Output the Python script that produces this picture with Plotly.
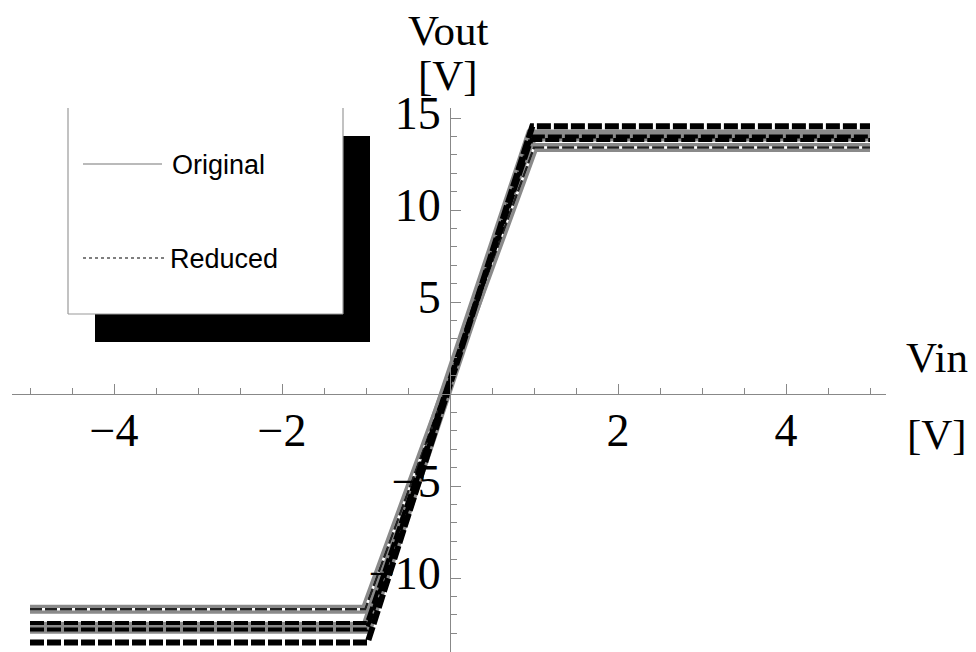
import plotly.graph_objects as go

# page has an 8px body margin, so figure is drawn from (8,8) of the window
OFF = 8
W, H = 976 - OFF, 652 - OFF

# ---- data ----
vin_g1 = [-5.0, -1.01, 1.0, 5.0]
vout_g1 = [-11.7, -11.7, 13.4, 13.4]          # original (gray, with white-dashed core)
vin_g2 = [-5.0, -0.99, 0.97, 5.0]
vout_g2 = [-12.7, -12.7, 14.05, 14.05]        # original (gray wide band)
vin_b2 = [-5.0, -0.99, 0.97, 5.0]
vout_b2 = [-12.45, -12.45, 14.0, 14.0]        # reduced
vin_b3 = [-5.0, -0.99, 0.97, 5.0]
vout_b3 = [-12.8, -12.8, 13.8, 13.8]          # reduced
vin_b4 = [-5.0, -0.98, 0.98, 5.0]
vout_b4 = [-13.5, -13.5, 14.55, 14.55]        # reduced (outermost)

x_tickvals = [-4, -2, 2, 4]
x_ticktext = ["\u22124", "\u22122", "2", "4"]
y_tickvals = [-10, -5, 5, 10, 15]
y_ticktext = ["\u221210", "\u22125", "5", "10", "15"]

# ---- pixel geometry helpers (window pixel coords) ----
x0px, x1px = 12, 886
y_top_px, y_bot_px = 108, 652
px_per_x = 84.0
px_per_y = 18.4
orig_x, orig_y = 450, 394
xr = [(x0px - orig_x) / px_per_x, (x1px - orig_x) / px_per_x]
yr = [(orig_y - y_bot_px) / px_per_y, (orig_y - y_top_px) / px_per_y]


def px(x):
    return (x - OFF) / W


def py(y):
    return 1 - (y - OFF) / H


xdom = [px(x0px), px(x1px)]
ydom = [max(0.0, py(y_bot_px)), py(y_top_px)]
xpos = xdom[0] + (0 - xr[0]) / (xr[1] - xr[0]) * (xdom[1] - xdom[0])
ypos = ydom[0] + (0 - yr[0]) / (yr[1] - yr[0]) * (ydom[1] - ydom[0])

fig = go.Figure()


def add(x, y, color, width, dash="solid"):
    fig.add_trace(go.Scatter(x=x, y=y, mode="lines", showlegend=False,
                             line=dict(color=color, width=width, dash=dash),
                             hoverinfo="skip"))


GRAY = "#8a8a8a"
add(vin_g2, vout_g2, GRAY, 12)
add(vin_g1, vout_g1, GRAY, 9)
add(vin_g1, vout_g1, "white", 2.5)
add(vin_g1, vout_g1, "#222222", 2.5, "12px,3px")
add(vin_b2, vout_b2, "black", 4, "14px,3px")
add(vin_b3, vout_b3, "black", 4, "14px,3px")
add(vin_b4, vout_b4, "black", 6, "14px,3px")

AX = "#888888"
fig.update_xaxes(range=xr, domain=xdom, anchor="free", position=ypos,
                 automargin=False,
                 showgrid=False, zeroline=False, showline=True,
                 linecolor=AX, linewidth=1.2,
                 ticks="inside", ticklen=10, tickcolor=AX, tickwidth=1,
                 tickvals=x_tickvals, ticktext=x_ticktext,
                 ticklabelstandoff=-4,
                 tickfont=dict(family="Liberation Serif", size=46, color="black"),
                 minor=dict(ticks="inside", ticklen=6, dtick=0.5, tick0=0,
                            tickcolor=AX, showgrid=False))
fig.update_yaxes(range=yr, domain=ydom, anchor="free", position=xpos,
                 automargin=False,
                 showgrid=False, zeroline=False, showline=True,
                 linecolor=AX, linewidth=1.2,
                 ticks="inside", ticklen=10, tickcolor=AX, tickwidth=1,
                 tickvals=y_tickvals, ticktext=y_ticktext,
                 ticklabelshift=-5,
                 tickfont=dict(family="Liberation Serif", size=46, color="black"),
                 minor=dict(ticks="inside", ticklen=6, dtick=1, tick0=0,
                            tickcolor=AX, showgrid=False))

shapes = []
# legend shadow
shapes.append(dict(type="rect", xref="paper", yref="paper",
                   x0=px(95), x1=px(370), y0=py(342), y1=py(136),
                   fillcolor="black", line=dict(width=0), layer="above"))
# legend box
shapes.append(dict(type="rect", xref="paper", yref="paper",
                   x0=px(68), x1=px(343), y0=py(314), y1=py(108),
                   fillcolor="white", line=dict(width=0), layer="above"))
for (a, b, c, d) in [(68, 108, 68, 314), (68, 314, 343, 314), (343, 108, 343, 314)]:
    shapes.append(dict(type="line", xref="paper", yref="paper",
                       x0=px(a), y0=py(b), x1=px(c), y1=py(d),
                       line=dict(color="#999999", width=1.2), layer="above"))
shapes.append(dict(type="line", xref="paper", yref="paper",
                   x0=px(83), y0=py(164), x1=px(162), y1=py(164),
                   line=dict(color="#777777", width=1.2), layer="above"))
shapes.append(dict(type="line", xref="paper", yref="paper",
                   x0=px(83), y0=py(258), x1=px(165), y1=py(258),
                   line=dict(color="#555555", width=1.3, dash="dot"), layer="above"))

ann = []
ann.append(dict(x=px(170), y=py(165), xref="paper", yref="paper", text="Original",
                showarrow=False, xanchor="left", yanchor="middle",
                font=dict(family="Liberation Sans", size=27, color="black")))
ann.append(dict(x=px(168), y=py(259), xref="paper", yref="paper", text="Reduced",
                showarrow=False, xanchor="left", yanchor="middle",
                font=dict(family="Liberation Sans", size=27, color="black")))
serif = dict(family="Liberation Serif", size=43, color="black")
ann.append(dict(x=px(448), y=py(31), xref="paper", yref="paper", text="Vout",
                showarrow=False, xanchor="center", yanchor="middle", font=serif,
                borderpad=0))
ann.append(dict(x=px(448), y=py(76), xref="paper", yref="paper", text="[V]",
                showarrow=False, xanchor="center", yanchor="middle", font=serif,
                borderpad=0))
ann.append(dict(x=px(937), y=py(357), xref="paper", yref="paper", text="Vin",
                showarrow=False, xanchor="center", yanchor="middle", font=serif))
ann.append(dict(x=px(937), y=py(434), xref="paper", yref="paper", text="[V]",
                showarrow=False, xanchor="center", yanchor="middle", font=serif))

fig.update_layout(width=W, height=H,
                  margin=dict(l=0, r=0, t=0, b=0, pad=0, autoexpand=False),
                  paper_bgcolor="white", plot_bgcolor="white",
                  shapes=shapes, annotations=ann, showlegend=False)

fig.write_html("out.html")
